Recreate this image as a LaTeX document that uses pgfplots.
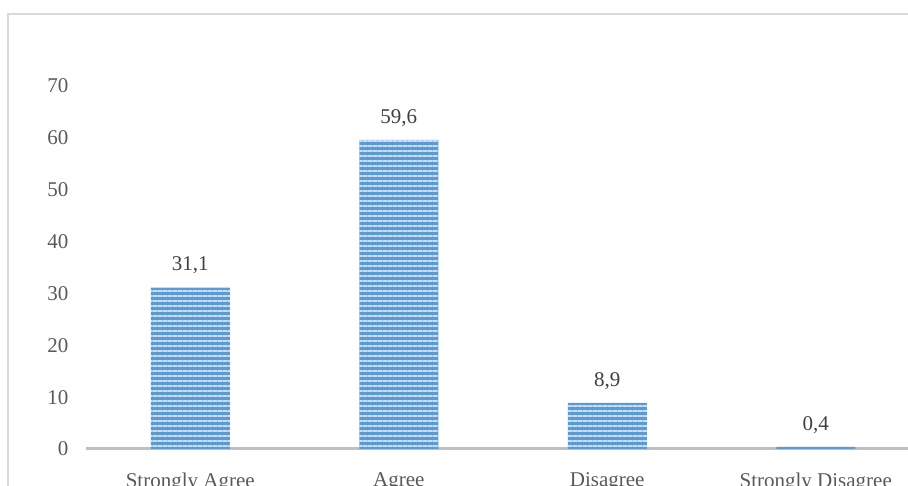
\documentclass[border=0pt]{standalone}
\usepackage{fontspec}
\setmainfont{Liberation Serif}
\usepackage{pgfplots}
\pgfplotsset{compat=1.18}
\usetikzlibrary{patterns.meta}

\definecolor{framegray}{HTML}{D9D9D9}
\definecolor{axisgray}{HTML}{BFBFBF}
\definecolor{ticktext}{HTML}{595959}
\definecolor{valtext}{HTML}{404040}
\definecolor{barblue}{HTML}{5B9BD5}
\definecolor{stripe}{HTML}{C9DEF3}

\begin{document}
\begin{tikzpicture}[x=1pt,y=1pt]
\useasboundingbox (0,0) rectangle (908,486);
\clip (0,0) rectangle (908,486);
% chart area border
\draw[framegray, line width=1.5pt] (8,472) rectangle (1000,-40);
\begin{axis}[
  at={(86pt,37pt)}, anchor=south west,
  scale only axis, width=834pt, height=363pt,
  xmin=-0.5, xmax=3.5, ymin=0, ymax=70,
  axis x line*=bottom, axis y line*=left,
  y axis line style={draw=none},
  x axis line style={draw=axisgray, line width=3pt, -},
  tick style={draw=none},
  xtick={0,1,2,3},
  xticklabels={Strongly Agree, Agree, Disagree, Strongly Disagree},
  ytick={0,10,...,70},
  /pgf/number format/assume math mode=true,
  tick label style={font=\fontsize{21}{25}\selectfont, text=ticktext},
  yticklabel style={xshift=-14pt},
  xticklabel style={yshift=-16pt},
  clip=false,
  ybar, bar width=79pt,
  nodes near coords,
  every node near coord/.append style={font=\fontsize{21}{25}\selectfont, text=valtext, yshift=10pt},
  nodes near coords style={/pgf/number format/.cd, use comma, fixed, fixed zerofill, precision=1, assume math mode=true},
]
\addplot[draw=none, fill=barblue,
  postaction={pattern={Lines[angle=0, distance=5pt, line width=2pt]}, pattern color=stripe}]
  coordinates {(0,31.1) (1,59.6) (2,8.9) (3,0.4)};
\end{axis}
\end{tikzpicture}
\end{document}
